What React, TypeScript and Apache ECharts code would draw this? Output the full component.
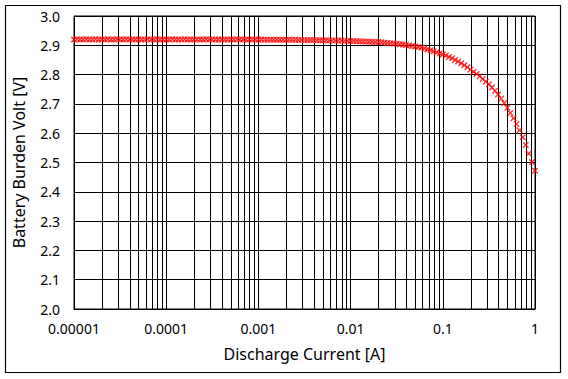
import React, { useEffect, useRef } from "react";
import * as echarts from "echarts";

const currents: number[] = [
  0.00001, 0.0000108, 0.00001166, 0.00001259, 0.00001359, 0.00001468, 0.00001585, 0.00001711, 0.00001848, 0.00001995,
  0.00002154, 0.00002326, 0.00002512, 0.00002712, 0.00002929, 0.00003162, 0.00003415, 0.00003687, 0.00003981, 0.00004299,
  0.00004642, 0.00005012, 0.00005412, 0.00005843, 0.0000631, 0.00006813, 0.00007356, 0.00007943, 0.00008577, 0.00009261,
  0.0001, 0.000108, 0.0001166, 0.0001259, 0.0001359, 0.0001468, 0.0001585, 0.0001711, 0.0001848, 0.0001995,
  0.0002154, 0.0002326, 0.0002512, 0.0002712, 0.0002929, 0.0003162, 0.0003415, 0.0003687, 0.0003981, 0.0004299,
  0.0004642, 0.0005012, 0.0005412, 0.0005843, 0.000631, 0.0006813, 0.0007356, 0.0007943, 0.0008577, 0.0009261,
  0.001, 0.00108, 0.001166, 0.001259, 0.001359, 0.001468, 0.001585, 0.001711, 0.001848, 0.001995,
  0.002154, 0.002326, 0.002512, 0.002712, 0.002929, 0.003162, 0.003415, 0.003687, 0.003981, 0.004299,
  0.004642, 0.005012, 0.005412, 0.005843, 0.00631, 0.006813, 0.007356, 0.007943, 0.008577, 0.009261,
  0.01, 0.0108, 0.01166, 0.01259, 0.01359, 0.01468, 0.01585, 0.01711, 0.01848, 0.01995,
  0.02154, 0.02326, 0.02512, 0.02712, 0.02929, 0.03162, 0.03415, 0.03687, 0.03981, 0.04299,
  0.04642, 0.05012, 0.05412, 0.05843, 0.0631, 0.06813, 0.07356, 0.07943, 0.08577, 0.09261,
  0.1, 0.108, 0.1166, 0.1259, 0.1359, 0.1468, 0.1585, 0.1711, 0.1848, 0.1995,
  0.2154, 0.2326, 0.2512, 0.2712, 0.2929, 0.3162, 0.3415, 0.3687, 0.3981, 0.4299,
  0.4642, 0.5012, 0.5412, 0.5843, 0.631, 0.6813, 0.7356, 0.7943, 0.8577, 0.9261,
  1.0,
];

const volts: number[] = [
  2.920, 2.921, 2.920, 2.920, 2.921, 2.920, 2.920, 2.921, 2.920, 2.920,
  2.920, 2.921, 2.920, 2.920, 2.921, 2.920, 2.920, 2.921, 2.920, 2.920,
  2.920, 2.921, 2.920, 2.920, 2.921, 2.920, 2.920, 2.921, 2.920, 2.920,
  2.920, 2.920, 2.921, 2.920, 2.920, 2.920, 2.921, 2.920, 2.920, 2.920,
  2.920, 2.920, 2.920, 2.921, 2.920, 2.920, 2.920, 2.920, 2.920, 2.920,
  2.920, 2.920, 2.920, 2.921, 2.920, 2.920, 2.920, 2.920, 2.920, 2.920,
  2.920, 2.920, 2.919, 2.919, 2.919, 2.919, 2.919, 2.919, 2.919, 2.919,
  2.919, 2.919, 2.919, 2.918, 2.918, 2.918, 2.918, 2.918, 2.918, 2.917,
  2.917, 2.917, 2.917, 2.916, 2.916, 2.916, 2.916, 2.916, 2.915, 2.915,
  2.915, 2.915, 2.914, 2.914, 2.913, 2.913, 2.912, 2.912, 2.911, 2.911,
  2.910, 2.909, 2.908, 2.907, 2.906, 2.905, 2.904, 2.903, 2.901, 2.899,
  2.898, 2.896, 2.894, 2.892, 2.889, 2.886, 2.883, 2.880, 2.876, 2.872,
  2.869, 2.865, 2.860, 2.856, 2.850, 2.845, 2.839, 2.832, 2.825, 2.817,
  2.810, 2.802, 2.794, 2.785, 2.776, 2.767, 2.756, 2.745, 2.732, 2.718,
  2.703, 2.687, 2.669, 2.651, 2.631, 2.610, 2.586, 2.560, 2.531, 2.502,
  2.472,
];

const xTickLabels: string[] = ["0.00001", "0.0001", "0.001", "0.01", "0.1", "1"];
const decades: number[] = [0.00001, 0.0001, 0.001, 0.01, 0.1];
const minorMultipliers: number[] = [2, 3, 4, 5, 6, 7, 8, 9];

export default function App() {
  const ref = useRef<HTMLDivElement>(null);

  useEffect(() => {
    document.body.style.margin = "0";
    if (!ref.current) return;
    const chart = echarts.init(ref.current, undefined, { renderer: "svg" });

    const minorX: number[] = [];
    decades.forEach((d) => {
      minorMultipliers.forEach((m) => {
        minorX.push(parseFloat((d * m).toPrecision(3)));
      });
    });

    const font = "'Noto Sans', 'Open Sans', sans-serif";

    chart.setOption({
      animation: false,
      backgroundColor: "#ffffff",
      grid: {
        left: 74,
        right: 33,
        top: 16,
        bottom: 70,
        show: true,
        borderColor: "#000",
        borderWidth: 1,
      },
      graphic: [
        {
          type: "rect",
          shape: { x: 5.5, y: 5.5, width: 555, height: 367 },
          style: { fill: "none", stroke: "#000", lineWidth: 1.2 },
          silent: true,
        },
      ],
      xAxis: {
        type: "log",
        logBase: 10,
        min: 0.00001,
        max: 1,
        name: "Discharge Current [A]",
        nameLocation: "middle",
        nameGap: 37,
        nameTextStyle: { fontSize: 16, color: "#000", fontFamily: font },
        axisLine: { show: true, lineStyle: { color: "#000", width: 1 } },
        axisTick: { show: false },
        axisLabel: {
          color: "#000",
          fontSize: 14,
          fontFamily: font,
          margin: 12,
          formatter: (v: number) => {
            const idx = Math.round(Math.log10(v) + 5);
            return xTickLabels[idx] ?? "";
          },
        },
        splitLine: { show: true, lineStyle: { color: "#000", width: 1 } },
      },
      yAxis: {
        type: "value",
        min: 2.0,
        max: 3.0,
        interval: 0.1,
        name: "Battery Burden Volt [V]",
        nameLocation: "middle",
        nameGap: 47,
        nameTextStyle: { fontSize: 16, color: "#000", fontFamily: font },
        axisLine: { show: true, lineStyle: { color: "#000", width: 1 } },
        axisTick: { show: false },
        axisLabel: {
          color: "#000",
          fontSize: 14,
          fontFamily: font,
          margin: 14,
          formatter: (v: number) => v.toFixed(1),
        },
        splitLine: { show: true, lineStyle: { color: "#000", width: 1 } },
      },
      series: [
        {
          type: "custom",
          z: 1,
          silent: true,
          data: minorX.map((x) => [x]),
          encode: { x: 0 },
          renderItem: (params: any, api: any) => {
            const xv = api.value(0);
            const p1 = api.coord([xv, 2.0]);
            const p2 = api.coord([xv, 3.0]);
            const x = Math.round(p1[0]) + 0.5;
            return {
              type: "line",
              shape: { x1: x, y1: p1[1], x2: x, y2: p2[1] },
              style: { stroke: "#000", lineWidth: 1 },
            };
          },
        },
        {
          type: "scatter",
          z: 5,
          symbol:
            "path://M0,1.5L1.5,0L5,3.5L8.5,0L10,1.5L6.5,5L10,8.5L8.5,10L5,6.5L1.5,10L0,8.5L3.5,5Z",
          symbolSize: 6.5,
          itemStyle: { color: "#ff0000" },
          data: currents.map((c, i) => [c, volts[i]]),
        },
      ],
    });

    return () => chart.dispose();
  }, []);

  return <div ref={ref} style={{ width: 568, height: 379 }} />;
}
